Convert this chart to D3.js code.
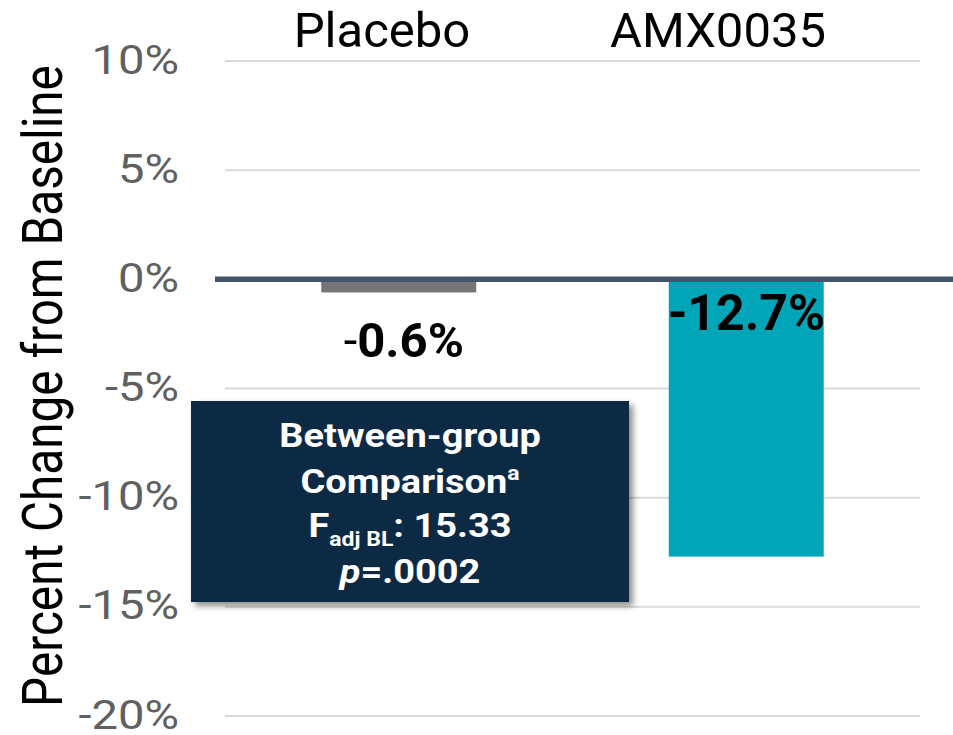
<!DOCTYPE html>
<html>
<head>
<meta charset="utf-8">
<script src="https://cdn.jsdelivr.net/npm/d3@7"></script>
<style>
  html, body { margin: 0; padding: 0; background: #fff; }
  svg { display: block; font-family: Roboto, "Noto Sans", sans-serif; }
</style>
</head>
<body>
<svg id="chart" width="953" height="735"></svg>
<script>
// Percent change from baseline by treatment group
const categories = ["Placebo", "AMX0035"];
const values = [-0.6, -12.7];
const barColors = ["#767676", "#00A5B8"];
const yTicks = [10, 5, 0, -5, -10, -15, -20];
const yTitle = "Percent Change from Baseline";
const statTitle = ["Between-group", "Comparison"];
const statFootnote = "a";
const statF = { label: "F", sub: "adj BL", value: "15.33" };
const statP = { label: "p", value: "=.0002" };

const W = 953, H = 735;
const svg = d3.select("#chart");
const stretch = 1.15; // horizontal widening of axis and panel type

const y = d3.scaleLinear().domain([-20, 10]).range([716, 61]);
const x = d3.scaleBand().domain(categories).range([225, 920])
  .paddingInner(0.554).paddingOuter(0.277);
const headerX = d3.scalePoint().domain(categories).range([382, 718]);

// plain hyphen for negative numbers
const locale = d3.formatLocale({ decimal: ".", thousands: ",", grouping: [3], currency: ["", ""], minus: "-" });
const fmt = v => locale.format(".1f")(v) + "%";

// gridlines (the zero line is drawn separately, heavier)
svg.append("g").selectAll("line")
  .data(yTicks.filter(t => t !== 0))
  .join("line")
  .attr("x1", 225).attr("x2", 920)
  .attr("y1", d => y(d)).attr("y2", d => y(d))
  .attr("stroke", "#D9D9D9").attr("stroke-width", 2);

// tick labels
svg.append("g").selectAll("text")
  .data(yTicks)
  .join("text")
  .attr("transform", d => `translate(179,${y(d) + 12.5}) scale(${stretch},1)`)
  .attr("text-anchor", "end")
  .attr("font-size", 41)
  .attr("fill", "#606060")
  .text(d => d + "%");

// y-axis title
svg.append("text")
  .attr("transform", `translate(62,386) scale(${stretch},1) rotate(-90)`)
  .attr("text-anchor", "middle")
  .attr("font-size", 47.7)
  .attr("fill", "#000")
  .text(yTitle);

// bars
svg.append("g").selectAll("rect")
  .data(categories)
  .join("rect")
  .attr("x", d => x(d))
  .attr("width", x.bandwidth())
  .attr("y", (d, i) => Math.min(y(0), y(values[i])))
  .attr("height", (d, i) => Math.abs(y(values[i]) - y(0)))
  .attr("fill", (d, i) => barColors[i]);

// zero line
svg.append("line")
  .attr("x1", 215).attr("x2", W)
  .attr("y1", y(0)).attr("y2", y(0))
  .attr("stroke", "#44546A").attr("stroke-width", 5.5);

// group headers
svg.append("g").selectAll("text")
  .data(categories)
  .join("text")
  .attr("x", d => headerX(d))
  .attr("y", 47)
  .attr("text-anchor", "middle")
  .attr("font-size", 49)
  .attr("fill", "#000")
  .text(d => d);

// value labels: short bars get the label beneath the bar end, long bars inside at the top
const isShort = v => Math.abs(v) < 3;
const vl = svg.append("g").selectAll("text")
  .data(categories)
  .join("text")
  .attr("x", (d, i) => x(d) + x.bandwidth() / 2 + (isShort(values[i]) ? 5 : 0))
  .attr("y", (d, i) => isShort(values[i]) ? y(values[i]) + 65 : y(0) + 51)
  .attr("text-anchor", "middle")
  .attr("fill", "#000")
  .attr("font-size", (d, i) => isShort(values[i]) ? 49 : 50);
vl.each(function (d, i) {
  const t = d3.select(this);
  const s = fmt(values[i]);
  if (isShort(values[i])) {
    t.append("tspan").attr("font-weight", 400).text(s.slice(0, 1));
    t.append("tspan").attr("font-weight", 700).text(s.slice(1));
  } else {
    t.append("tspan").attr("font-weight", 700).text(s);
  }
});

// statistics panel
const defs = svg.append("defs");
const f = defs.append("filter").attr("id", "shadow")
  .attr("x", "-10%").attr("y", "-10%").attr("width", "125%").attr("height", "130%");
f.append("feDropShadow").attr("dx", 4).attr("dy", 4).attr("stdDeviation", 3)
  .attr("flood-color", "#000").attr("flood-opacity", 0.45);

const panel = svg.append("g");
panel.append("rect")
  .attr("x", 191).attr("y", 401).attr("width", 438).attr("height", 201)
  .attr("fill", "#0F2945")
  .attr("filter", "url(#shadow)");

const cx = 410;
const line = (yy) => panel.append("text")
  .attr("transform", `translate(${cx},${yy}) scale(${stretch},1)`)
  .attr("text-anchor", "middle")
  .attr("font-size", 33)
  .attr("font-weight", 700)
  .attr("fill", "#fff");

line(447).text(statTitle[0]);
const l2 = line(493);
l2.append("tspan").text(statTitle[1]);
l2.append("tspan").attr("font-size", 20).attr("dy", -13).text(statFootnote);

const l3 = line(537);
l3.append("tspan").text(statF.label);
l3.append("tspan").attr("font-size", 20).attr("dy", 9).text(statF.sub);
l3.append("tspan").attr("dy", -9).text(": " + statF.value);

const l4 = line(583);
l4.append("tspan").attr("font-style", "italic").text(statP.label);
l4.append("tspan").text(statP.value);
</script>
</body>
</html>
